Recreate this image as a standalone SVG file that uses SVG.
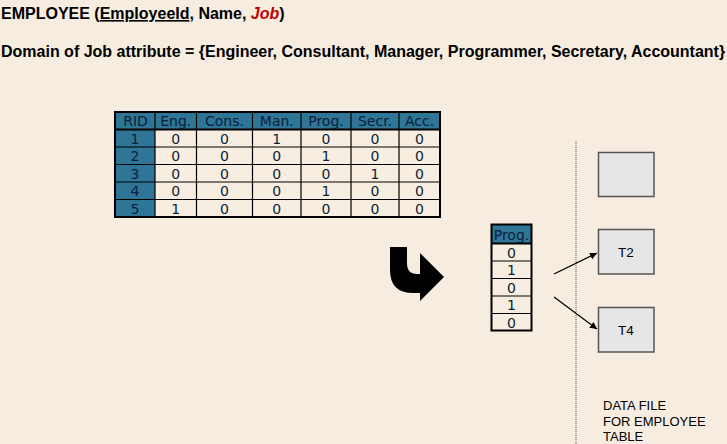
<svg xmlns="http://www.w3.org/2000/svg" width="727" height="444" viewBox="0 0 727 444">
<defs>
<style>
.title{font-family:"Liberation Sans",Arial,sans-serif;font-weight:bold;font-size:16px;fill:#000}
.job{fill:#C00000;font-style:italic}
.hdr{fill:#2E7596}
.cell{fill:#F7EEE1}
.t{font-family:"DejaVu Sans",Verdana,sans-serif;font-size:14px;fill:#0B1F3A;text-anchor:middle}
.grid{stroke:#000;stroke-width:1.2;fill:none}
.outer{stroke:#000;stroke-width:2;fill:none}
.box{fill:#E6E6E6;stroke:#555;stroke-width:1.5}
.lbl{font-family:"Liberation Sans",Arial,sans-serif;font-size:13.5px;fill:#000;text-anchor:middle}
.foot{font-family:"Liberation Sans",Arial,sans-serif;font-size:13px;fill:#000}
.conn{stroke:#000;stroke-width:1.3;fill:none}
</style>
<marker id="ah" viewBox="0 0 10 10" refX="10" refY="5" markerWidth="7" markerHeight="7" markerUnits="userSpaceOnUse" orient="auto">
<path d="M0,0 L10,5 L0,10 Z" fill="#000"/>
</marker>
</defs>
<rect width="727" height="444" fill="#F6EDE0"/>

<g id="title">
<text class="title" x="1" y="19">EMPLOYEE (<tspan text-decoration="underline">EmployeeId</tspan>, Name, <tspan class="job">Job</tspan>)</text>
<text class="title" x="1" y="56.5">Domain of Job attribute = {Engineer, Consultant, Manager, Programmer, Secretary, Accountant}</text>
</g>

<g id="bitmap-table">
<rect class="hdr" x="115" y="112" width="325" height="17.5"/>
<rect class="hdr" x="115" y="129.5" width="40" height="87.5"/>
<rect class="cell" x="155" y="129.5" width="285" height="87.5"/>
<g class="grid">
<path d="M115,147H440M115,164.5H440M115,182H440M115,199.5H440"/>
<path d="M155,112V217M196.5,112V217M252.5,112V217M301,112V217M351,112V217M399,112V217"/>
</g>
<path class="outer" d="M115,129.5H440"/>
<rect class="outer" x="115" y="112" width="325" height="105"/>
<g class="t">
<text x="135.5" y="126.3">RID</text><text x="175.8" y="126.3">Eng.</text><text x="224.5" y="126.3">Cons.</text><text x="276.8" y="126.3">Man.</text><text x="326" y="126.3">Prog.</text><text x="375" y="126.3">Secr.</text><text x="419.5" y="126.3">Acc.</text>
<text x="135" y="143.5">1</text><text x="175.8" y="143.5">0</text><text x="224.5" y="143.5">0</text><text x="276.8" y="143.5">1</text><text x="326" y="143.5">0</text><text x="375" y="143.5">0</text><text x="419.5" y="143.5">0</text>
<text x="135" y="161">2</text><text x="175.8" y="161">0</text><text x="224.5" y="161">0</text><text x="276.8" y="161">0</text><text x="326" y="161">1</text><text x="375" y="161">0</text><text x="419.5" y="161">0</text>
<text x="135" y="178.5">3</text><text x="175.8" y="178.5">0</text><text x="224.5" y="178.5">0</text><text x="276.8" y="178.5">0</text><text x="326" y="178.5">0</text><text x="375" y="178.5">1</text><text x="419.5" y="178.5">0</text>
<text x="135" y="196">4</text><text x="175.8" y="196">0</text><text x="224.5" y="196">0</text><text x="276.8" y="196">0</text><text x="326" y="196">1</text><text x="375" y="196">0</text><text x="419.5" y="196">0</text>
<text x="135" y="213.5">5</text><text x="175.8" y="213.5">1</text><text x="224.5" y="213.5">0</text><text x="276.8" y="213.5">0</text><text x="326" y="213.5">0</text><text x="375" y="213.5">0</text><text x="419.5" y="213.5">0</text>
</g>
</g>

<g id="bent-arrow">
<path d="M390,247 H407 V263 Q407,274 417,274 H420 V253 L444,277 L420,301 V293 H413 Q390,293 390,270 Z" fill="#000"/>
</g>

<g id="prog-column">
<rect class="hdr" x="491.5" y="224.5" width="40" height="19"/>
<rect class="cell" x="491.5" y="243.5" width="40" height="87"/>
<path class="grid" d="M491.5,261H531.5M491.5,278.5H531.5M491.5,296H531.5M491.5,313.5H531.5"/>
<path class="outer" d="M491.5,243.5H531.5"/>
<rect class="outer" x="491.5" y="224.5" width="40" height="106"/>
<g class="t">
<text x="511.5" y="240">Prog.</text>
<text x="511.5" y="257.5">0</text>
<text x="511.5" y="275">1</text>
<text x="511.5" y="292.5">0</text>
<text x="511.5" y="310">1</text>
<text x="511.5" y="327.5">0</text>
</g>
</g>

<g id="divider">
<line x1="576" y1="141" x2="576" y2="444" stroke="#555" stroke-width="1" stroke-dasharray="1,1"/>
</g>

<g id="block-empty"><rect class="box" x="598.5" y="152.5" width="55.5" height="44"/></g>
<g id="block-t2"><rect class="box" x="598.5" y="229.5" width="55.5" height="44.5"/><text class="lbl" x="626" y="256.5">T2</text></g>
<g id="block-t4"><rect class="box" x="598.5" y="307.5" width="55.5" height="44.5"/><text class="lbl" x="626" y="334.5">T4</text></g>

<g id="connectors">
<line class="conn" x1="554" y1="274" x2="597" y2="253" marker-end="url(#ah)"/>
<line class="conn" x1="554" y1="297" x2="597" y2="329" marker-end="url(#ah)"/>
</g>

<g id="data-file-label">
<text class="foot" x="603" y="410">DATA FILE</text>
<text class="foot" x="603" y="425.5">FOR EMPLOYEE</text>
<text class="foot" x="603" y="441">TABLE</text>
</g>
</svg>
